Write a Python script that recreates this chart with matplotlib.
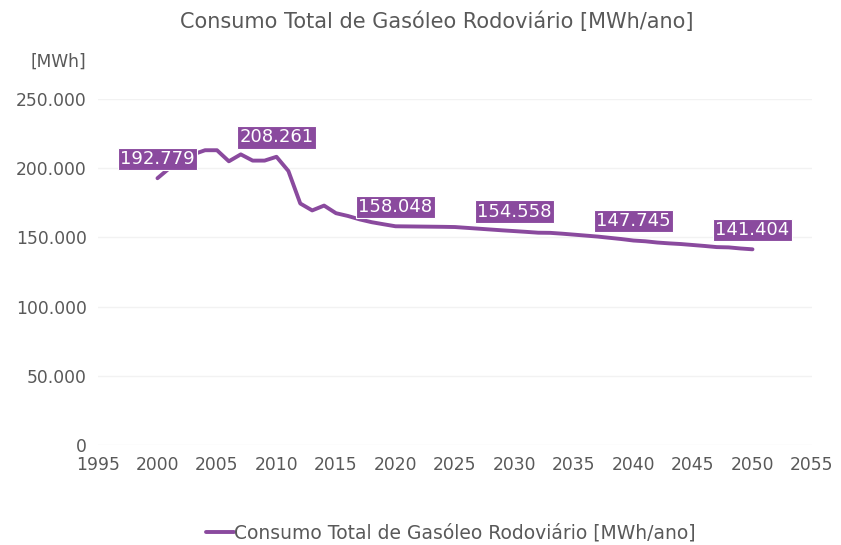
import matplotlib
matplotlib.use('Agg')
import matplotlib.pyplot as plt
from matplotlib.ticker import FuncFormatter

plt.rcParams['font.family'] = ['DejaVu Sans']

# yearly road diesel consumption, MWh/year
years = list(range(2000, 2051))
consumo = [192779, 200000, 205500, 210000, 213000, 213000, 205000, 210000, 205500, 205500,
           208261, 198000, 174500, 169500, 173000, 167500, 165500, 163000, 161000, 159500,
           158048, 157950, 157850, 157750, 157650, 157500, 156900, 156300, 155700, 155100,
           154558, 154000, 153400, 153300, 152700, 152000, 151300, 150600, 149700, 148800,
           147745, 147200, 146300, 145700, 145200, 144500, 143800, 143000, 142800, 142000,
           141404]
label_years = [2000, 2010, 2020, 2030, 2040, 2050]

titulo = 'Consumo Total de Gasóleo Rodoviário [MWh/ano]'
cor = '#8a4a9e'
cinza = '#595959'

fig = plt.figure(figsize=(8.41, 5.45), dpi=100)
ax = fig.add_axes([0.1165, 0.1835, 0.849, 0.6348])

ax.plot(years, consumo, color=cor, lw=2.8, solid_capstyle='round', label=titulo, zorder=3)

def fmt(v):
    return '{:,.0f}'.format(v).replace(',', '.')

for yr in label_years:
    v = consumo[years.index(yr)]
    ax.annotate(fmt(v), (yr, v), xytext=(0, 14), textcoords='offset points',
                ha='center', va='center', color='white', fontsize=13, zorder=4,
                bbox=dict(boxstyle='square,pad=0.12', fc=cor, ec='white', lw=0.8))

ax.set_xlim(1995, 2055)
ax.set_ylim(0, 250000)
ax.set_xticks(range(1995, 2056, 5))
ax.set_yticks(range(0, 250001, 50000))
ax.yaxis.set_major_formatter(FuncFormatter(lambda v, p: fmt(v)))
ax.grid(axis='y', color='#f2f2f2', lw=1)
ax.set_axisbelow(True)
for s in ax.spines.values():
    s.set_visible(False)
ax.tick_params(length=0, labelsize=12.3, colors=cinza, pad=8)

fig.text(0.519, 0.96, titulo, ha='center', va='center', fontsize=15, color=cinza)
fig.text(0.102, 0.886, '[MWh]', ha='right', va='center', fontsize=12.3, color=cinza)

fig.legend(loc='center', bbox_to_anchor=(0.536, 0.022), frameon=False, fontsize=13.5,
           handlelength=1.5, handletextpad=0.0, labelcolor=cinza)

fig.savefig('out.png', dpi=100)
